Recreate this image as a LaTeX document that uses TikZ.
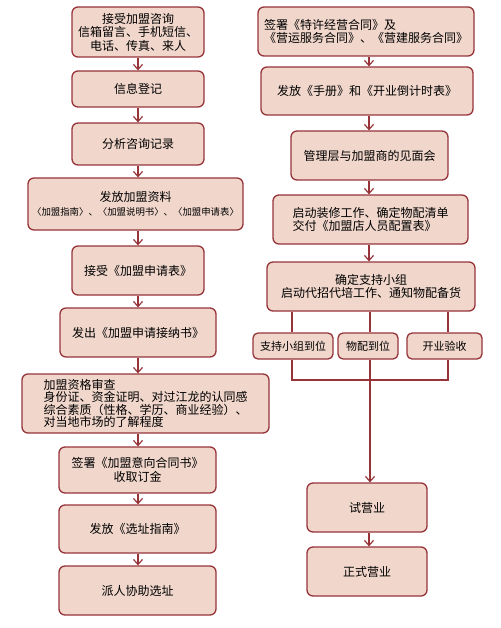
\documentclass[tikz,border=0pt]{standalone}
\usepackage{fontspec}
\newfontfamily\cjk{Noto Sans CJK SC}
\usetikzlibrary{arrows.meta,positioning,calc}
\definecolor{frame}{RGB}{150,52,58}
\definecolor{boxfill}{RGB}{240,214,203}
\begin{document}
\begin{tikzpicture}[x=1pt,y=-1pt,
   box/.style={draw=frame,fill=boxfill,line width=1.3pt,rounded corners=6pt,
     align=center,inner sep=2pt,font=\cjk\fontsize{12}{13.5}\selectfont},
   small/.style={box,rounded corners=5pt,font=\cjk\fontsize{11}{12}\selectfont},
   link/.style={draw=frame,line width=1.3pt},
   arr/.style={link,-{Straight Barb[length=5pt,width=9pt,line width=1.2pt]}}]
  \useasboundingbox (0,0) rectangle (500,628);
  \coordinate (lx) at (138,0);
  \coordinate (rx) at (369,0);
  % left column
  \node[box,minimum width=132pt,minimum height=50pt] (b1) at (138,32)
    {接受加盟咨询\\信箱留言、手机短信、\\电话、传真、来人};
  \node[box,minimum width=132pt,minimum height=36pt] (b2) at (138,89) {信息登记};
  \node[box,minimum width=132pt,minimum height=42pt] (b3) at (138,144) {分析咨询记录};
  \node[box,minimum width=215pt,minimum height=52pt] (b4) at (135.5,204)
    {发放加盟资料\\{\fontsize{9.4}{11.5}\selectfont 〈加盟指南〉、〈加盟说明书〉、〈加盟申请表〉}};
  \node[box,minimum width=132pt,minimum height=49pt] (b5) at (138,270.5) {接受《加盟申请表》};
  \node[box,minimum width=156pt,minimum height=49pt] (b6) at (138,332.5) {发出《加盟申请接纳书》};
  \node[box,align=left,minimum width=247pt,minimum height=59pt,
    font=\cjk\fontsize{12}{12.4}\selectfont] (b7) at (145.5,403.5)
    {加盟资格审查\\身份证、资金证明、对过江龙的认同感\\综合素质（性格、学历、商业经验）、\\对当地市场的了解程度};
  \node[box,minimum width=157pt,minimum height=46pt] (b8) at (137.5,470)
    {签署《加盟意向合同书》\\收取订金};
  \node[box,minimum width=157pt,minimum height=48pt] (b9) at (137.5,529) {发放《选址指南》};
  \node[box,minimum width=157pt,minimum height=49pt] (b10) at (137.5,590.5) {派人协助选址};
  % right column
  \node[box,align=left,minimum width=216pt,minimum height=49pt] (r1) at (366,31.5)
    {签署《特许经营合同》及\\《营运服务合同》、《营建服务合同》};
  \node[box,minimum width=212pt,minimum height=48pt] (r2) at (367,91)
    {发放《手册》和《开业倒计时表》};
  \node[box,minimum width=157pt,minimum height=49pt] (r3) at (369.5,155.5)
    {管理层与加盟商的见面会};
  \node[box,align=left,minimum width=195pt,minimum height=49pt] (r4) at (370.5,219.5)
    {启动装修工作、确定物配清单\\交付《加盟店人员配置表》};
  \node[box,minimum width=208pt,minimum height=49pt] (r5) at (371,286.5)
    {确定支持小组\\启动代招代培工作、通知物配备货};
  \node[small,minimum width=80pt,minimum height=26pt] (s1) at (293,346) {支持小组到位};
  \node[small,minimum width=60pt,minimum height=26pt] (s2) at (368,346) {物配到位};
  \node[small,minimum width=75pt,minimum height=26pt] (s3) at (444.5,346) {开业验收};
  \node[box,minimum width=120pt,minimum height=49pt] (r6) at (367,507.5) {试营业};
  \node[box,minimum width=120pt,minimum height=49pt] (r7) at (367,571.5) {正式营业};
  \coordinate (join) at (370,380);
  \foreach \a/\b in {b1/b2,b2/b3,b3/b4,b4/b5,b5/b6,b6/b7,b7/b8,b8/b9,b9/b10}
    \draw[arr] (\a.south -| lx) -- (\b.north -| lx);
  \foreach \a/\b in {r1/r2,r2/r3,r3/r4,r4/r5,r6/r7}
    \draw[arr] (\a.south -| rx) -- (\b.north -| rx);
  \draw[link] (r5.south -| 292,0) -- (s1.north -| 292,0);
  \draw[link] (r5.south -| join) -- (s2.north -| join);
  \draw[link] (r5.south -| 448,0) -- (s3.north -| 448,0);
  \draw[link] (s1.south -| 292,0) |- (join) -| (s3.south -| 448,0);
  \draw[link] (s2.south -| join) -- (join);
  \draw[arr] (join) -- (r6.north -| join);
\end{tikzpicture}
\end{document}
